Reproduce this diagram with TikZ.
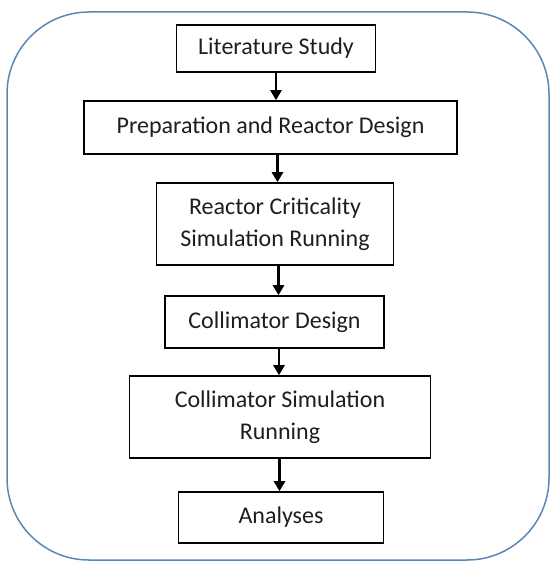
\documentclass[tikz,border=0pt]{standalone}
\usepackage{fontspec}
\setmainfont{Carlito}
\usetikzlibrary{arrows.meta}
\definecolor{frameblue}{HTML}{5B87B6}
\definecolor{txt}{HTML}{1E1E1E}
\begin{document}
\begin{tikzpicture}[x=1pt,y=-1pt,
  stepbox/.style={draw=black,line width=1.6pt,rectangle,inner sep=0pt,align=center,
    font=\fontsize{24}{32}\selectfont,text=txt},
  arr/.style={line width=2.6pt,-{Triangle[width=11pt,length=10pt]}}]
\useasboundingbox (0,0) rectangle (551,561);
\draw[frameblue,line width=1.5pt,rounded corners=82pt] (7,12) rectangle (549,560);
\node[stepbox,minimum width=199pt,minimum height=47pt] (lit) at (276,48.5) {Literature Study};
\node[stepbox,minimum width=373pt,minimum height=53pt] (prep) at (270.5,127.5) {Preparation and Reactor Design};
\node[stepbox,minimum width=237pt,minimum height=82pt] (crit) at (275,224) {Reactor Criticality\\Simulation Running};
\node[stepbox,minimum width=219pt,minimum height=52pt] (cdes) at (274.5,322) {Collimator Design};
\node[stepbox,minimum width=301pt,minimum height=82pt] (csim) at (280,417) {Collimator Simulation\\Running};
\node[stepbox,minimum width=205pt,minimum height=51pt] (ana) at (281,517.5) {Analyses};
\draw[arr] (lit.south -| 276,0) -- (prep.north -| 276,0);
\draw[arr] (prep.south -| 277.5,0) -- (crit.north -| 277.5,0);
\draw[arr] (crit.south -| 278.5,0) -- (cdes.north -| 278.5,0);
\draw[arr] (cdes.south -| 279,0) -- (csim.north -| 279,0);
\draw[arr] (csim.south -| 279.5,0) -- (ana.north -| 279.5,0);
\end{tikzpicture}
\end{document}
